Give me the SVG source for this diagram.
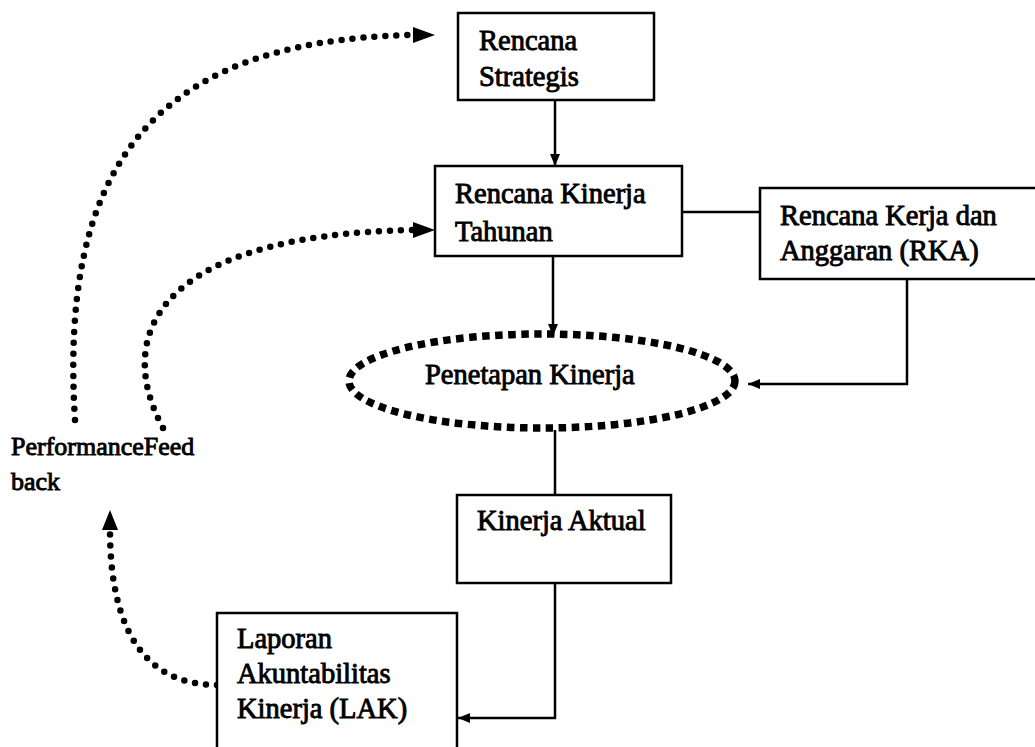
<svg xmlns="http://www.w3.org/2000/svg" width="1035" height="747" viewBox="0 0 1035 747">
<style>
.box{fill:#fff;stroke:#000;stroke-width:2.5}
.t{font-family:"Liberation Serif","Times New Roman",serif;font-size:28.5px;fill:#000;stroke:#000;stroke-width:0.9}
.ln{fill:none;stroke:#000;stroke-width:2.5}
.dot{fill:none;stroke:#000;stroke-width:6.5;stroke-linecap:round;stroke-dasharray:0 11}
.ell{fill:none;stroke:#000;stroke-width:7.5;stroke-dasharray:7.5 5.5}
</style>
<defs>
<marker id="ah" viewBox="0 0 12 10" refX="12" refY="5" markerWidth="12" markerHeight="10" markerUnits="userSpaceOnUse" orient="auto">
<path d="M0,0 L12,5 L0,10 Z" fill="#000"/>
</marker>
</defs>
<rect width="1035" height="747" fill="#fff"/>
<g id="connectors">
<line class="ln" x1="555" y1="100" x2="555" y2="166" marker-end="url(#ah)"/>
<line class="ln" x1="682" y1="212" x2="760" y2="212"/>
<line class="ln" x1="553" y1="247" x2="553" y2="336" marker-end="url(#ah)"/>
<polyline class="ln" points="907,279 907,384 748,384" marker-end="url(#ah)"/>
<line class="ln" x1="555" y1="430" x2="555" y2="495"/>
<polyline class="ln" points="555,583 555,718 458,718" marker-end="url(#ah)"/>
<path class="dot" d="M75,420 C60,180 140,40 413,35"/>
<path d="M413,27 L435,35 L413,43 Z" fill="#000"/>
<path class="dot" d="M163,428 C115,340 150,235 413,230"/>
<path d="M413,222 L435,230 L413,238 Z" fill="#000"/>
<path class="dot" d="M217,685 C145,685 110,630 110,530"/>
<path d="M102,530 L110,510 L118,530 Z" fill="#000"/>
</g>
<g id="rencana-strategis">
<rect class="box" x="458" y="13" width="196" height="87"/>
<text class="t" x="479" y="50">Rencana</text>
<text class="t" x="479" y="86">Strategis</text>
</g>
<g id="rencana-kinerja-tahunan">
<rect class="box" x="435" y="166" width="247" height="90"/>
<text class="t" x="455" y="203">Rencana Kinerja</text>
<text class="t" x="455" y="241">Tahunan</text>
</g>
<g id="rka">
<rect class="box" x="760" y="188" width="290" height="91"/>
<text class="t" x="780" y="225">Rencana Kerja dan</text>
<text class="t" x="780" y="260">Anggaran (RKA)</text>
</g>
<g id="penetapan-kinerja">
<ellipse class="ell" cx="542" cy="381" rx="193" ry="47"/>
<text class="t" x="425" y="384">Penetapan Kinerja</text>
</g>
<g id="kinerja-aktual">
<rect class="box" x="457" y="495" width="214" height="88"/>
<text class="t" x="477" y="530">Kinerja Aktual</text>
</g>
<g id="lak">
<rect class="box" x="217" y="613" width="240" height="150"/>
<text class="t" x="237" y="648">Laporan</text>
<text class="t" x="237" y="683">Akuntabilitas</text>
<text class="t" x="237" y="718">Kinerja (LAK)</text>
</g>
<g id="performance-feedback">
<text class="t" x="11" y="455" style="font-size:26px">PerformanceFeed</text>
<text class="t" x="11" y="490" style="font-size:26px">back</text>
</g>
</svg>
